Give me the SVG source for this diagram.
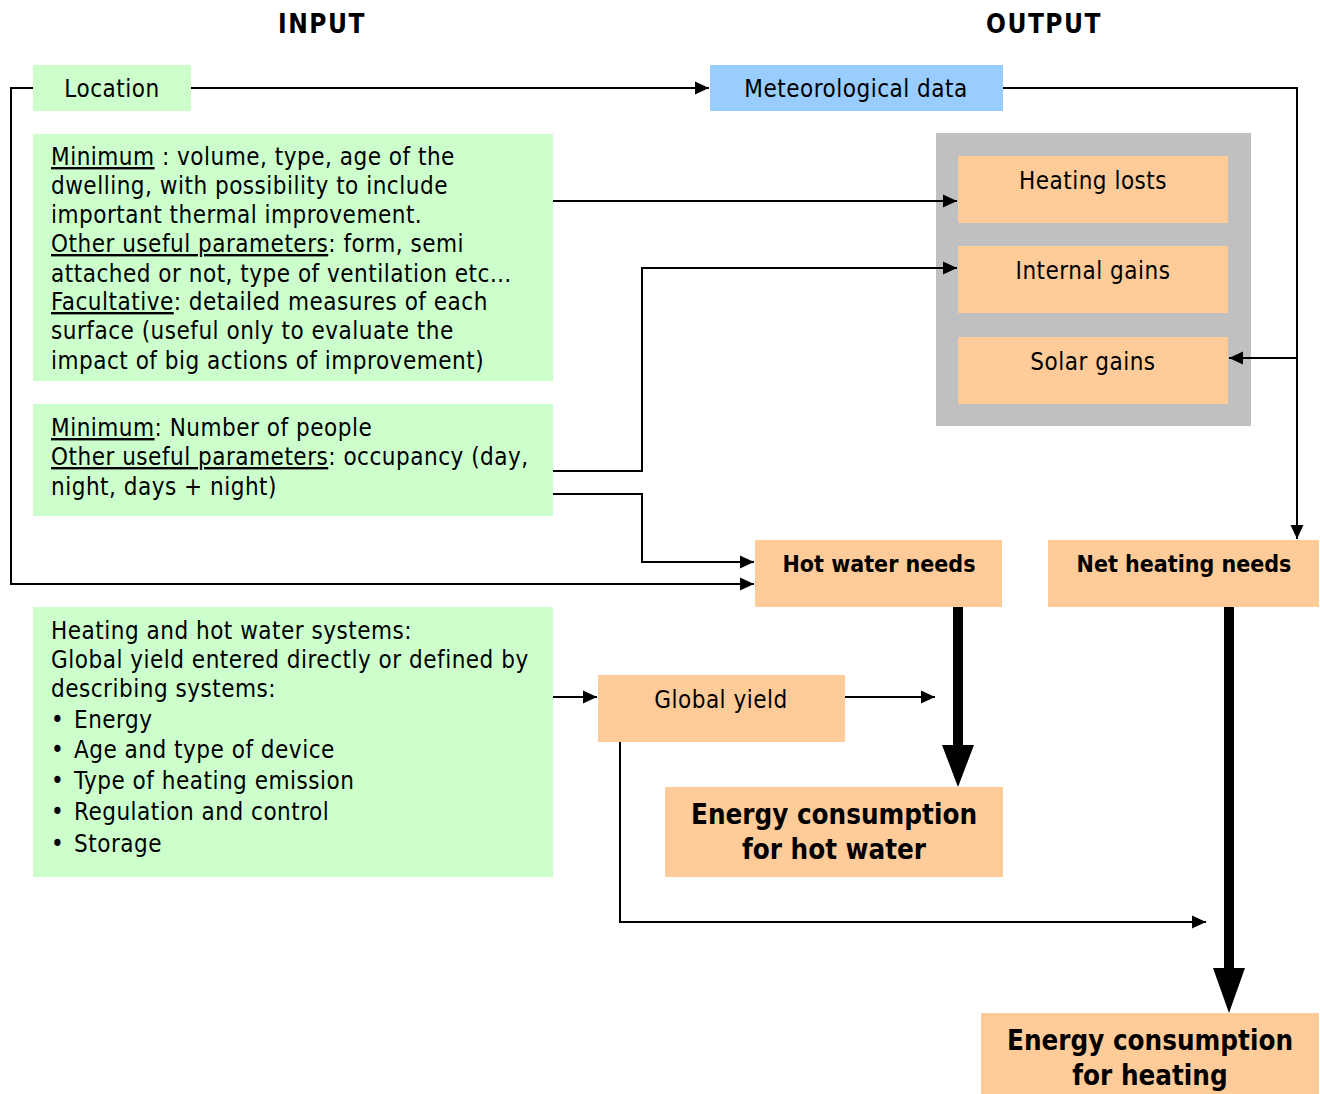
<svg xmlns="http://www.w3.org/2000/svg" width="1320" height="1094" viewBox="0 0 1320 1094">
<style>
text{font-family:"DejaVu Sans Condensed","DejaVu Sans",sans-serif;fill:#000}
.t{font-size:24px;letter-spacing:0.5px}
.b{font-size:23px;font-weight:bold}
.big{font-size:27.5px;font-weight:bold}
.hd{font-size:26px;font-weight:bold;letter-spacing:1.5px}
.c{text-anchor:middle}
.g{fill:#ccffcc}
.o{fill:#ffcc99}
.u{text-decoration:underline}
.ln{fill:none;stroke:#000;stroke-width:2}
</style>
<defs>
<marker id="ah" markerUnits="userSpaceOnUse" markerWidth="15" markerHeight="15" refX="14" refY="7" orient="auto">
<path d="M0,0.5 L14,7 L0,13.5 Z" fill="#000"/>
</marker>
</defs>
<text class="hd c" x="322" y="33">INPUT</text>
<text class="hd c" x="1044" y="33">OUTPUT</text>

<g id="location"><rect class="g" x="33" y="65" width="158" height="46"/><text class="t c" x="112" y="97">Location</text></g>
<g id="meteo"><rect x="710" y="65" width="293" height="46" fill="#99ccff"/><text class="t c" x="856" y="97">Meteorological data</text></g>
<g id="gains-group"><rect x="936" y="133" width="315" height="293" fill="#c0c0c0"/></g>
<g id="heating-losts"><rect class="o" x="958" y="156" width="270" height="67"/><text class="t c" x="1093" y="189">Heating losts</text></g>
<g id="internal-gains"><rect class="o" x="958" y="246" width="270" height="67"/><text class="t c" x="1093" y="279">Internal gains</text></g>
<g id="solar-gains"><rect class="o" x="958" y="337" width="270" height="67"/><text class="t c" x="1093" y="370">Solar gains</text></g>

<g id="dwelling"><rect class="g" x="33" y="134" width="520" height="247"/>
<text class="t" x="51" y="165"><tspan class="u">Minimum</tspan> : volume, type, age of the</text>
<text class="t" x="51" y="194">dwelling, with possibility to include</text>
<text class="t" x="51" y="223">important thermal improvement.</text>
<text class="t" x="51" y="252"><tspan class="u">Other useful parameters</tspan>: form, semi</text>
<text class="t" x="51" y="282">attached or not, type of ventilation etc…</text>
<text class="t" x="51" y="310"><tspan class="u">Facultative</tspan>: detailed measures of each</text>
<text class="t" x="51" y="339">surface (useful only to evaluate the</text>
<text class="t" x="51" y="369">impact of big actions of improvement)</text>
</g>
<g id="people"><rect class="g" x="33" y="404" width="520" height="112"/>
<text class="t" x="51" y="436"><tspan class="u">Minimum</tspan>: Number of people</text>
<text class="t" x="51" y="465"><tspan class="u">Other useful parameters</tspan>: occupancy (day,</text>
<text class="t" x="51" y="495">night, days + night)</text>
</g>
<g id="systems"><rect class="g" x="33" y="607" width="520" height="270"/>
<text class="t" x="51" y="639">Heating and hot water systems:</text>
<text class="t" x="51" y="668">Global yield entered directly or defined by</text>
<text class="t" x="51" y="697">describing systems:</text>
<text class="t" x="51" y="728">•</text><text class="t" x="74" y="728">Energy</text>
<text class="t" x="51" y="758">•</text><text class="t" x="74" y="758">Age and type of device</text>
<text class="t" x="51" y="789">•</text><text class="t" x="74" y="789">Type of heating emission</text>
<text class="t" x="51" y="820">•</text><text class="t" x="74" y="820">Regulation and control</text>
<text class="t" x="51" y="852">•</text><text class="t" x="74" y="852">Storage</text>
</g>
<g id="hot-water-needs"><rect class="o" x="755" y="540" width="247" height="67"/><text class="b c" x="879" y="572">Hot water needs</text></g>
<g id="net-heating-needs"><rect class="o" x="1048" y="540" width="271" height="67"/><text class="b c" x="1184" y="572">Net heating needs</text></g>
<g id="global-yield"><rect class="o" x="598" y="675" width="247" height="67"/><text class="t c" x="721" y="708">Global yield</text></g>
<g id="ec-hot-water"><rect class="o" x="665" y="787" width="338" height="90"/><text class="big c" x="834" y="824">Energy consumption</text><text class="big c" x="834" y="859">for hot water</text></g>
<g id="ec-heating"><rect class="o" x="981" y="1013" width="338" height="81"/><text class="big c" x="1150" y="1050">Energy consumption</text><text class="big c" x="1150" y="1085">for heating</text></g>

<g id="connectors">
<path class="ln" d="M191,88 H709" marker-end="url(#ah)"/>
<path class="ln" d="M33,88 H11 V584 H754" marker-end="url(#ah)"/>
<path class="ln" d="M1003,88 H1297 V539" marker-end="url(#ah)"/>
<path class="ln" d="M1297,358 H1229" marker-end="url(#ah)"/>
<path class="ln" d="M553,201 H957" marker-end="url(#ah)"/>
<path class="ln" d="M553,471 H642 V268 H957" marker-end="url(#ah)"/>
<path class="ln" d="M553,494 H642 V562 H754" marker-end="url(#ah)"/>
<path class="ln" d="M553,697 H597" marker-end="url(#ah)"/>
<path class="ln" d="M845,697 H935" marker-end="url(#ah)"/>
<path class="ln" d="M620,742 V922 H1206" marker-end="url(#ah)"/>
<path d="M953,607 H963 V745 H974 L958,787 L942,745 H953 Z" fill="#000"/>
<path d="M1224,607 H1234 V968 H1245 L1229,1013 L1213,968 H1224 Z" fill="#000"/>
</g>
</svg>
